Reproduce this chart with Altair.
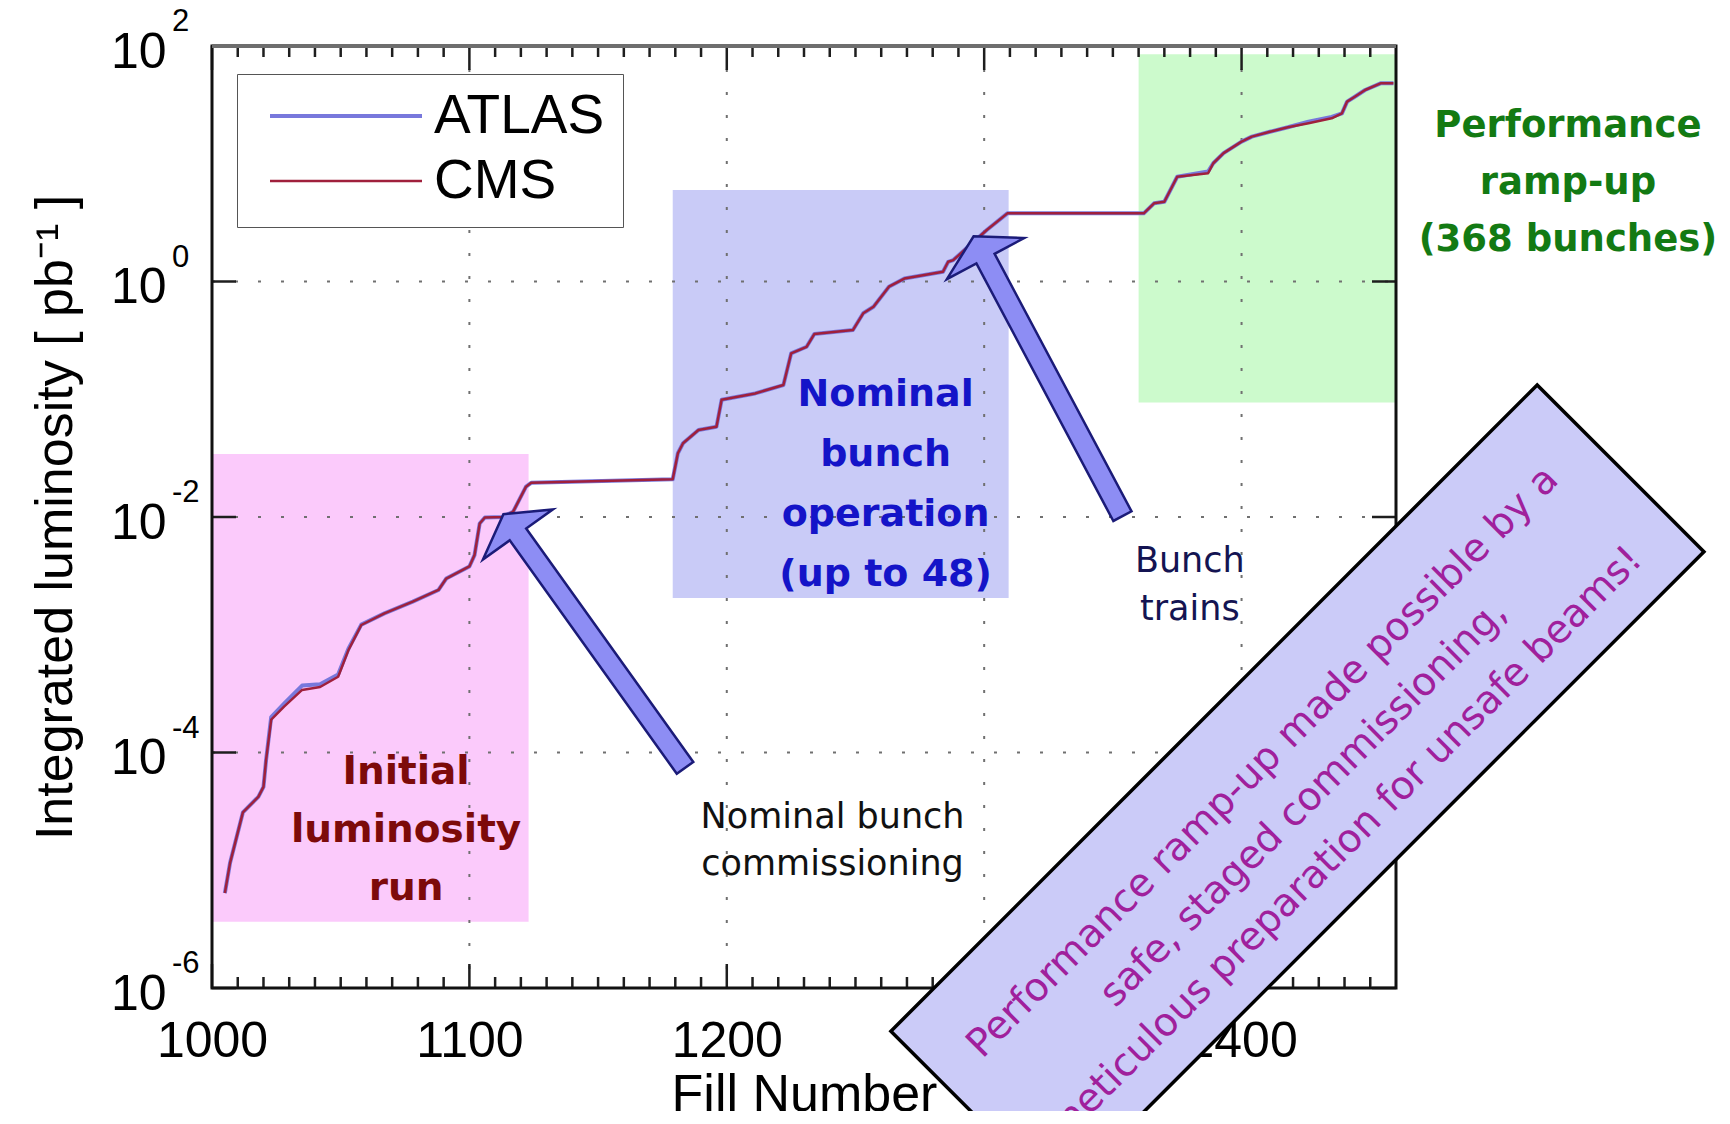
import altair as alt
import pandas as pd

# ---------------- data ----------------
fill_numbers = [1005, 1007, 1012, 1018, 1020, 1021, 1023, 1028, 1035, 1042,
                1049, 1053, 1058, 1067, 1078, 1088, 1091, 1100, 1102, 1104,
                1106, 1113, 1117, 1122, 1124, 1179, 1181, 1183, 1189, 1196,
                1198, 1211, 1222, 1225, 1231, 1234, 1249, 1253, 1257, 1263,
                1269, 1284, 1286, 1288, 1301, 1309, 1362, 1366, 1370, 1373,
                1375, 1387, 1389, 1393, 1400, 1404, 1411, 1418, 1426, 1435,
                1439, 1441, 1444, 1448, 1454, 1459]

cms_lumi = [6.4e-6, 1.15e-5, 3.1e-5, 4.2e-5, 5.1e-5, 8.6e-5, 1.9e-4, 2.45e-4, 3.4e-4, 3.6e-4,
            4.4e-4, 7.4e-4, 1.21e-3, 1.52e-3, 1.91e-3, 2.4e-3, 3.0e-3, 3.8e-3, 4.75e-3, 8.8e-3,
            9.9e-3, 1.0e-2, 1.11e-2, 1.81e-2, 1.95e-2, 2.09e-2, 3.48e-2, 4.23e-2, 5.48e-2, 5.85e-2,
            9.9e-2, 0.112, 0.132, 0.245, 0.279, 0.358, 0.387, 0.537, 0.611, 0.904,
            1.06, 1.21, 1.47, 1.52, 2.74, 3.79, 3.79, 4.61, 4.76, 6.38,
            7.76, 8.30, 10.1, 12.3, 15.4, 17.0, 18.7, 20.4, 22.1, 24.3,
            26.8, 33.7, 37.1, 42.3, 48.2, 48.2]

atlas_lumi = [6.4e-6, 1.15e-5, 3.1e-5, 4.2e-5, 5.1e-5, 8.6e-5, 2.0e-4, 2.6e-4, 3.7e-4, 3.8e-4,
              4.6e-4, 7.6e-4, 1.22e-3, 1.52e-3, 1.91e-3, 2.4e-3, 3.0e-3, 3.8e-3, 4.75e-3, 8.8e-3,
              9.9e-3, 1.0e-2, 1.11e-2, 1.81e-2, 1.95e-2, 2.09e-2, 3.48e-2, 4.23e-2, 5.48e-2, 5.85e-2,
              9.9e-2, 0.112, 0.132, 0.245, 0.279, 0.358, 0.387, 0.537, 0.611, 0.904,
              1.06, 1.21, 1.47, 1.52, 2.74, 3.79, 3.79, 4.61, 4.76, 6.38,
              7.76, 8.60, 10.1, 12.3, 15.4, 17.0, 18.7, 20.4, 22.8, 25.0,
              26.8, 33.7, 37.1, 42.3, 48.2, 48.2]

series_names = ["ATLAS", "CMS"]
series_colors = ["#7878dc", "#a0203c"]

x_tick_labels = [1000, 1100, 1200, 1300, 1400]
x_minor_ticks = [v for v in range(1010, 1460, 10) if v % 100 != 0]
y_tick_values = [1e-6, 1e-4, 1e-2, 1, 100]
y_exponents = ["-6", "-4", "-2", "0", "2"]
grid_x = [1100, 1200, 1300, 1400]
grid_y = [1e-4, 1e-2, 1]

# shaded phases (fill number range, luminosity range)
region_x1 = [1000, 1179, 1360]
region_x2 = [1123, 1309.5, 1460]
region_y1 = [3.66e-6, 2.05e-3, 0.094]
region_y2 = [0.0343, 5.98, 85]
region_fill = ["#fbcafb", "#c9cbf7", "#ccfacc"]

# arrows (centre in data coordinates)
arrow_fill_pos = [1148.5, 1324.8]
arrow_lumi_pos = [8.85e-4, 0.157]

# annotations (anchor = first line)
initial_label = ["Initial", "luminosity", "run"]
nominal_label = ["Nominal", "bunch", "operation", "(up to 48)"]
ramp_label = ["Performance", "ramp-up", "(368 bunches)"]
commission_label = ["Nominal bunch", "commissioning"]
trains_label = ["Bunch", "trains"]
note_label = ["Performance ramp-up made possible by a",
              "safe, staged commissioning,",
              "meticulous preparation for unsafe beams!"]
ann_keys = ["initial", "nominal", "ramp", "commission", "trains", "note"]
ann_fill = [1075.4, 1261.7, 1526.8, 1241.1, 1379.9, 1408.2]
ann_lumi = [6.83e-5, 0.1087, 20.9, 2.83e-5, 4.23e-3, 8.3e-5]
ann_text = [initial_label, nominal_label, ramp_label, commission_label, trains_label, note_label]
note_box_fill = 1421.7
note_box_lumi = 4.67e-5

# ---------------- chart ----------------
W, H = 1184, 942
AXF = "Liberation Sans"
ANF = "DejaVu Sans"
TICK = "#1e1e1e"

xs = alt.Scale(domain=[1000, 1460], nice=False, zero=False)
ys = alt.Scale(type="log", domain=[1e-6, 100], nice=False)

x_axis = alt.Axis(
    title="Fill Number", values=x_tick_labels, format="d",
    labelFont=AXF, labelFontSize=50, labelColor="black", labelPadding=28,
    labelFlush=False, labelOverlap=False, ticks=False, tickSize=0, domain=False, grid=False,
    titleFont=AXF, titleFontSize=52, titleFontWeight="normal", titleColor="black",
    titleBaseline="alphabetic", titleX=W / 2, titleY=122)
y_axis = alt.Axis(
    title="Integrated luminosity [ pb\u207b\u00b9 ]", values=y_tick_values, labelExpr="'10'",
    labelFont=AXF, labelFontSize=50, labelColor="black", labelPadding=46, labelOffset=6,
    labelFlush=False, labelOverlap=False, ticks=False, tickSize=0, domain=False, grid=False,
    titleFont=AXF, titleFontSize=52, titleFontWeight="normal", titleColor="black",
    titleAngle=270, titleBaseline="alphabetic", titleX=-141, titleY=H / 2)

n = len(fill_numbers)
lines_df = pd.DataFrame({
    "fill": fill_numbers + fill_numbers,
    "lumi": atlas_lumi + cms_lumi,
    "series": ["ATLAS"] * n + ["CMS"] * n,
})

regions_df = pd.DataFrame({"x1": region_x1, "x2": region_x2, "y1": region_y1,
                           "y2": region_y2, "c": region_fill})
ann = {k: [{"fill": f, "lumi": l, "text": t}] for k, f, l, t in zip(ann_keys, ann_fill, ann_lumi, ann_text)}


def X(field="fill:Q"):
    return alt.X(field, scale=xs, axis=x_axis)


def Y(field="lumi:Q"):
    return alt.Y(field, scale=ys, axis=y_axis)


regions = alt.Chart(regions_df).mark_rect().encode(
    x=X("x1:Q"), x2="x2:Q", y=Y("y1:Q"), y2="y2:Q",
    fill=alt.Fill("c:N", scale=None))

grid_v = alt.Chart(pd.DataFrame({"fill": grid_x})).mark_rule(
    color="#707070", strokeWidth=2, strokeDash=[3, 20]).encode(
    x=X(), y=alt.value(0), y2=alt.value(H))
grid_h = alt.Chart(pd.DataFrame({"lumi": grid_y})).mark_rule(
    color="#707070", strokeWidth=2, strokeDash=[3, 20]).encode(
    y=Y(), x=alt.value(0), x2=alt.value(W))

maj_df = pd.DataFrame({"fill": x_tick_labels})
min_df = pd.DataFrame({"fill": x_minor_ticks})
ytk_df = pd.DataFrame({"lumi": y_tick_values})
tick_layers = [
    alt.Chart(maj_df).mark_rule(color=TICK, strokeWidth=2.5).encode(x=X(), y=alt.value(H), y2=alt.value(H - 24)),
    alt.Chart(maj_df).mark_rule(color=TICK, strokeWidth=2.5).encode(x=X(), y=alt.value(0), y2=alt.value(24)),
    alt.Chart(min_df).mark_rule(color=TICK, strokeWidth=2.5).encode(x=X(), y=alt.value(H), y2=alt.value(H - 11)),
    alt.Chart(min_df).mark_rule(color=TICK, strokeWidth=2.5).encode(x=X(), y=alt.value(0), y2=alt.value(11)),
    alt.Chart(ytk_df).mark_rule(color=TICK, strokeWidth=2.5).encode(y=Y(), x=alt.value(0), x2=alt.value(24)),
    alt.Chart(ytk_df).mark_rule(color=TICK, strokeWidth=2.5).encode(y=Y(), x=alt.value(W), x2=alt.value(W - 24)),
]

lines = alt.Chart(lines_df).mark_line(strokeJoin="round").encode(
    x=X(), y=Y(),
    color=alt.Color("series:N", scale=alt.Scale(domain=series_names, range=series_colors),
                    legend=alt.Legend(
                        title=None, orient="none", legendX=25, legendY=28,
                        symbolType="stroke", symbolSize=152 ** 2, symbolStrokeWidth=3,
                        symbolOffset=13, labelOffset=10, labelFont=AXF, labelFontSize=55,
                        labelColor="black", labelLimit=400, clipHeight=48, rowPadding=10,
                        padding=18, fillColor="white", strokeColor="#555555", cornerRadius=0)),
    strokeWidth=alt.StrokeWidth("series:N", scale=alt.Scale(domain=series_names, range=[4, 2.5]),
                                legend=None),
)

ARROW = "M-1,-0.065L0.84,-0.065L0.84,-0.276L1,0L0.84,0.276L0.84,0.065L-1,0.065Z"
arrow1 = alt.Chart(pd.DataFrame({"fill": arrow_fill_pos[:1], "lumi": arrow_lumi_pos[:1]})).mark_point(
    shape=ARROW, size=312 ** 2, angle=234.4, filled=True, fill="#8d8df4", stroke="#1b1b78",
    strokeWidth=2.5, opacity=1).encode(x=X(), y=Y())
arrow2 = alt.Chart(pd.DataFrame({"fill": arrow_fill_pos[1:], "lumi": arrow_lumi_pos[1:]})).mark_point(
    shape=ARROW, size=317 ** 2, angle=242.0, filled=True, fill="#8d8df4", stroke="#1b1b78",
    strokeWidth=2.5, opacity=1).encode(x=X(), y=Y())


def ann_layer(key, **kw):
    return alt.Chart(alt.Data(values=ann[key])).mark_text(
        align="center", baseline="middle", **kw).encode(x=X(), y=Y(), text="text:N")


texts = [
    ann_layer("initial", font=ANF, fontWeight="bold", fontSize=39, lineHeight=58, color="#7d0a0a"),
    ann_layer("nominal", font=ANF, fontWeight="bold", fontSize=38, lineHeight=60, color="#1414c8"),
    ann_layer("ramp", font=ANF, fontWeight="bold", fontSize=37, lineHeight=57, color="#137a13"),
    ann_layer("commission", font=ANF, fontSize=35, lineHeight=47, color="#111111"),
    ann_layer("trains", font=ANF, fontSize=35, lineHeight=48, color="#141452"),
]

frame = alt.Chart(pd.DataFrame({"k": [0]})).mark_rect(
    fillOpacity=0, stroke="#111111", strokeWidth=3).encode(
    x=alt.value(0), x2=alt.value(W), y=alt.value(0), y2=alt.value(H))
top_rule = alt.Chart(pd.DataFrame({"k": [0]})).mark_rule(color="#6e6e6e", strokeWidth=4).encode(
    x=alt.value(0), x2=alt.value(W), y=alt.value(0))

BOX = "M-1,-0.258L1,-0.258L1,0.258L-1,0.258Z"
note_box = alt.Chart(pd.DataFrame({"fill": [note_box_fill], "lumi": [note_box_lumi]})).mark_point(
    shape=BOX, size=914 ** 2, angle=315, filled=True, fill="#cbcbf8", stroke="#000000",
    strokeWidth=3.5, opacity=1).encode(x=X(), y=Y())
note_text = ann_layer("note", font=ANF, fontSize=39, lineHeight=58, angle=315, color="#a0209c")

exponents = alt.Chart(pd.DataFrame({"lumi": y_tick_values, "t": y_exponents})).mark_text(
    align="left", baseline="middle", dx=-40, dy=-24, font=AXF, fontSize=31, color="black").encode(
    x=alt.value(0), y=Y(), text="t:N")

chart = alt.layer(
    regions, grid_v, grid_h, *tick_layers, lines, arrow1, arrow2, *texts,
    frame, top_rule, note_box, note_text, exponents
).properties(
    width=W, height=H,
    padding={"left": 204, "top": 38, "right": 326, "bottom": 123},
    autosize=alt.AutoSizeParams(type="none"),
).configure_view(stroke=None).configure_legend(strokeWidth=3).configure(background="white")

chart.save("out.html", embed_options={"renderer": "svg", "actions": False})
